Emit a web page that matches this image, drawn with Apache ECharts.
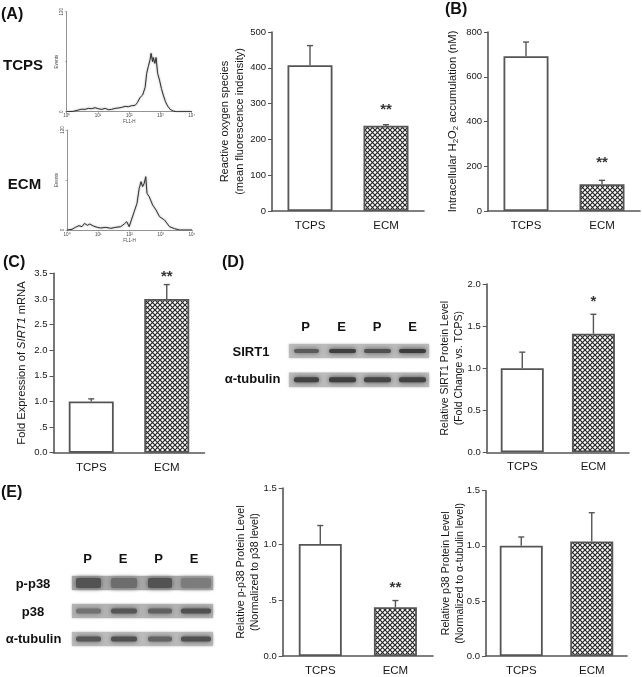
<!DOCTYPE html>
<html><head><meta charset="utf-8">
<style>html,body{margin:0;padding:0;background:#fff}#c{width:642px;height:677px}</style>
<script src="https://cdn.jsdelivr.net/npm/echarts@6/dist/echarts.min.js"></script>
</head><body><div id="c"></div>
<script>
const categories = ['TCPS', 'ECM'];
const FONT = '"Liberation Sans", Arial, sans-serif';
const INK = '#161616', LINE = '#555555';

// Bar panels: means, upper error-bar ends, star labels
const rosMeans = [407, 238], rosHigh = [462, 241], rosStars = [null, 293];
const h2o2Means = [692, 120], h2o2High = [755, 137], h2o2Stars = [null, 232];
const sirtMrnaMeans = [1.0, 3.0], sirtMrnaHigh = [1.05, 3.28], sirtMrnaStars = [null, 3.5];
const sirtProtMeans = [1.0, 1.41], sirtProtHigh = [1.19, 1.64], sirtProtStars = [null, 1.84];
const pp38Means = [1.0, 0.435], pp38High = [1.165, 0.495], pp38Stars = [null, 0.64];
const p38Means = [1.0, 1.04], p38High = [1.08, 1.30];

const rosTicks = ['0', '100', '200', '300', '400', '500'];
const h2o2Ticks = ['0', '200', '400', '600', '800'];
const sirtMrnaTicks = ['0.0', '.5', '1.0', '1.5', '2.0', '2.5', '3.0', '3.5'];
const sirtProtTicks = ['0.0', '0.5', '1.0', '1.5', '2.0'];
const pp38Ticks = ['0.0', '.5', '1.0', '1.5'];
const p38Ticks = ['0.0', '0.5', '1.0', '1.5'];

// Flow cytometry histograms: log10 decade and event count
const tcpsDecades = [0,.21,.37,.48,.59,.69,.80,.91,1.01,1.12,1.23,1.33,1.44,1.55,1.65,1.76,1.87,1.97,2.08,2.19,2.26,2.35,2.43,2.51,2.56,2.61,2.67,2.70,2.75,2.77,2.82,2.86,2.91,2.97,3.03,3.09,3.16,3.23,3.31,3.41,3.52,4];
const tcpsCounts  = [0,.4,2,3,2.8,4,3.6,4.8,3.6,2.8,4,2.4,2.8,4,4.4,5.2,6.4,6,7.2,7.6,10.8,17.2,20,29.2,46,54,62.8,70,60,65,58,65,46,38,28,20,12,6.8,2.8,.8,0,0];
const ecmDecades = [0,.16,.27,.38,.48,.56,.65,.73,.84,.97,1.08,1.24,1.40,1.56,1.72,1.83,1.91,1.99,2.06,2.15,2.24,2.31,2.37,2.42,2.47,2.52,2.56,2.63,2.74,2.85,2.96,3.12,3.28,3.44,3.60,4];
const ecmCounts  = [0,.8,3.2,5.2,4,8,5.6,7.2,4.8,3.2,2.4,3.2,2,3.2,4,7.2,10,4,12,22,32,50,58,52,56,64,44,40,30,24,16,12,4,1.6,0,0];
const histXTicks = ['10\u2070', '10\u00B9', '10\u00B2', '10\u00B3', '10\u2074'];
const histYTicks = ['0', '', '120'];

// Western blots: band darkness per lane (0 to 1)
const dSirt1 = [.55, .72, .62, .74], dTubulin = [.70, .72, .68, .70];
const eP = [.60, .45, .60, .36], eP38 = [.42, .58, .52, .62], eTubulin = [.58, .62, .50, .62];

const hatch = document.createElement('canvas');
hatch.width = 5; hatch.height = 5;
(function () {
  const g = hatch.getContext('2d');
  g.fillStyle = '#fff'; g.fillRect(0, 0, 5, 5);
  g.strokeStyle = '#262626'; g.lineWidth = 1.2;
  g.beginPath();
  g.moveTo(-1, -1); g.lineTo(6, 6);
  g.moveTo(6, -1); g.lineTo(-1, 6);
  g.stroke();
})();

const grids = [], xAxes = [], yAxes = [], series = [];

function barPanel(geom, yMax, interval, ticks, means, high, stars, name, nameGap, nameSize, rich) {
  const i = grids.length;
  grids.push({ left: geom[0], top: geom[1], width: geom[2], height: geom[3], containLabel: false });
  xAxes.push({ type: 'category', gridIndex: i, data: categories,
    axisLine: { lineStyle: { color: LINE, width: 1.6 } },
    axisTick: { alignWithLabel: true, length: 3, lineStyle: { color: LINE, width: 1 } },
    axisLabel: { color: INK, fontFamily: FONT, fontSize: 11.5, margin: 9 } });
  yAxes.push({ type: 'value', gridIndex: i, min: 0, max: yMax, interval: interval,
    splitLine: { show: false },
    axisLine: { show: true, lineStyle: { color: LINE, width: 1.6 } },
    axisTick: { show: true, length: 4, lineStyle: { color: LINE, width: 1 } },
    axisLabel: { color: INK, fontFamily: FONT, fontSize: 9.5, margin: 6,
      formatter: (v, idx) => ticks[idx] },
    name: name, nameLocation: 'middle', nameGap: nameGap, nameRotate: 90, nameMoveOverlap: false,
    nameTextStyle: { color: INK, fontFamily: FONT, fontSize: nameSize, lineHeight: 14.5, rich: rich || {} } });
  series.push({ type: 'bar', xAxisIndex: i, yAxisIndex: i, barWidth: geom[4], z: 3,
    data: means.map((v, k) => ({ value: v, itemStyle: {
      color: k === 0 ? '#fff' : { image: hatch, repeat: 'repeat' },
      borderColor: LINE, borderWidth: 1.8 } })) });
  series.push({ type: 'custom', xAxisIndex: i, yAxisIndex: i, z: 4,
    encode: { x: 0, y: [1, 2] },
    data: means.map((v, k) => [k, v, high[k]]),
    renderItem: (p, api) => {
      const a = api.coord([api.value(0), api.value(1)]);
      const b = api.coord([api.value(0), api.value(2)]);
      const st = { stroke: LINE, lineWidth: 1.4 };
      return { type: 'group', children: [
        { type: 'line', shape: { x1: a[0], y1: a[1], x2: b[0], y2: b[1] }, style: st },
        { type: 'line', shape: { x1: b[0] - 3, y1: b[1], x2: b[0] + 3, y2: b[1] }, style: st }
      ] };
    } });
  if (stars) {
    series.push({ type: 'scatter', xAxisIndex: i, yAxisIndex: i, symbolSize: 0, z: 5, clip: false,
      data: stars.map((v, k) => (v === null ? null : { value: [k, v] })).filter(Boolean),
      label: { show: true, position: 'inside', offset: [0, 4], color: '#000',
        fontFamily: FONT, fontWeight: 'bold', fontSize: 15,
        formatter: () => (yMax === 2 ? '*' : '**') } });
  }
}

function histPanel(geom, decades, counts) {
  const i = grids.length;
  grids.push({ left: geom[0], top: geom[1], width: geom[2], height: geom[3], containLabel: false });
  xAxes.push({ type: 'value', gridIndex: i, min: 0, max: 4, interval: 1,
    splitLine: { show: false },
    axisLine: { lineStyle: { color: '#777', width: 0.8 } },
    axisTick: { show: true, length: 1.5, lineStyle: { color: '#777', width: 0.6 } },
    axisLabel: { color: '#444', fontFamily: FONT, fontSize: 4.5, margin: 2,
      formatter: (v, idx) => histXTicks[idx] },
    name: 'FL1-H', nameLocation: 'middle', nameGap: 8,
    nameTextStyle: { color: '#444', fontFamily: FONT, fontSize: 4.5 } });
  yAxes.push({ type: 'value', gridIndex: i, min: 0, max: 120, interval: 60,
    splitLine: { show: false },
    axisLine: { show: true, lineStyle: { color: '#777', width: 0.8 } },
    axisTick: { show: true, length: 1.5, lineStyle: { color: '#777', width: 0.6 } },
    axisLabel: { color: '#444', fontFamily: FONT, fontSize: 4.5, margin: 2, rotate: 90,
      formatter: (v, idx) => histYTicks[idx] },
    name: 'Events', nameLocation: 'middle', nameGap: 7, nameRotate: 90,
    nameTextStyle: { color: '#444', fontFamily: FONT, fontSize: 4.5 } });
  series.push({ type: 'line', xAxisIndex: i, yAxisIndex: i, showSymbol: false, smooth: false,
    lineStyle: { color: '#333', width: 1, shadowColor: '#888', shadowBlur: 2 },
    data: decades.map((d, k) => [d, counts[k]]) });
}

histPanel([66.7, 11.7, 125, 100], tcpsDecades, tcpsCounts);
histPanel([67, 130, 125, 100], ecmDecades, ecmCounts);

barPanel([272, 32, 152, 179, 45], 500, 100, rosTicks, rosMeans, rosHigh, rosStars,
  'Reactive oxygen species\n(mean fluorescence indensity)', 25, 11);
barPanel([488, 32, 152, 179, 45], 800, 200, h2o2Ticks, h2o2Means, h2o2High, h2o2Stars,
  '{n|Intracellular H}{s|2}{n|O}{s|2}{n| accumulation (nM)}', 28, 11.2,
  { n: { fontSize: 11.2, fontFamily: FONT, color: INK, verticalAlign: 'middle' },
    s: { fontSize: 8, fontFamily: FONT, color: INK, verticalAlign: 'bottom', padding: [4, 0, 0, 0] } });
barPanel([53.5, 273.3, 151, 179.4, 45], 3.5, 0.5, sirtMrnaTicks, sirtMrnaMeans, sirtMrnaHigh, sirtMrnaStars,
  '{n|Fold Expression of }{i|SIRT1}{n| mRNA}', 24, 11.2,
  { n: { fontSize: 11.2, fontFamily: FONT, color: INK },
    i: { fontSize: 11.2, fontFamily: FONT, color: INK, fontStyle: 'italic' } });
barPanel([486.7, 284, 142.3, 168.3, 43], 2, 0.5, sirtProtTicks, sirtProtMeans, sirtProtHigh, sirtProtStars,
  'Relative SIRT1 Protein Level\n(Fold Change vs. TCPS)', 20, 10.5);
barPanel([282.7, 488, 150.3, 169.3, 43], 1.5, 0.5, pp38Ticks, pp38Means, pp38High, pp38Stars,
  'Relative p-p38 Protein Level\n(Normalized to p38 level)', 20, 10.6);
barPanel([486, 490.7, 141, 167.6, 43], 1.5, 0.5, p38Ticks, p38Means, p38High, null,
  'Relative p38 Protein Level\n(Normalized to \u03B1-tubulin level)', 18.5, 10.6);

// Non-data annotation: panel letters, row labels and western blot strips
const graphic = [];
function txt(s, x, y, size, align) {
  graphic.push({ type: 'text', x: x, y: y, silent: true, style: {
    text: s, font: 'bold ' + size + 'px ' + FONT, fill: '#111',
    textAlign: align || 'left', textVerticalAlign: 'middle' } });
}
[['(A)', 1, 15], ['(B)', 445, 10], ['(C)', 3, 263], ['(D)', 222, 263], ['(E)', 1, 493]]
  .forEach(a => txt(a[0], a[1], a[2], 16));
txt('TCPS', 23, 66, 15, 'center'); txt('ECM', 24.5, 185, 15, 'center');
[305.7, 341.7, 377, 412.7].forEach((x, k) => txt(['P', 'E', 'P', 'E'][k], x, 327, 13, 'center'));
[87.7, 123, 158.7, 194].forEach((x, k) => txt(['P', 'E', 'P', 'E'][k], x, 559, 13, 'center'));
txt('SIRT1', 251, 352, 13, 'center'); txt('\u03B1-tubulin', 252.5, 379, 13, 'center');
txt('p-p38', 33, 584, 13, 'center'); txt('p38', 33, 612, 13, 'center'); txt('\u03B1-tubulin', 33.5, 639, 13, 'center');

function strip(x, y, w, h, bg, lanes, darkness, bandH) {
  graphic.push({ type: 'rect', silent: true, shape: { x: x, y: y, width: w, height: h },
    style: { fill: bg, shadowColor: bg, shadowBlur: 2 } });
  lanes.forEach((l, k) => {
    const g = Math.round(185 - 170 * darkness[k]);
    const c = 'rgb(' + g + ',' + g + ',' + g + ')';
    graphic.push({ type: 'rect', silent: true,
      shape: { x: l[0], y: y + h / 2 - bandH / 2, width: l[1] - l[0], height: bandH, r: Math.min(bandH / 2, 2) },
      style: { fill: c, shadowColor: c, shadowBlur: 5 } });
  });
}
const dLanes = [[294, 319], [329, 356], [364, 391], [399, 426]];
const eLanes = [[76, 101], [111, 137], [148, 172], [181, 211]];
strip(289, 344, 140, 14, '#bcbcbc', dLanes, dSirt1, 4);
strip(289, 372.5, 140, 14.5, '#bcbcbc', dLanes, dTubulin, 5);
strip(72, 576, 141, 14, '#a8a8a8', eLanes, eP, 10);
strip(72, 604, 141, 14, '#b4b4b4', eLanes, eP38, 5);
strip(72, 632, 141, 14, '#bcbcbc', eLanes, eTubulin, 5);

const chart = echarts.init(document.getElementById('c'), null, { renderer: 'canvas' });
chart.setOption({
  animation: false, backgroundColor: '#fff', tooltip: { show: false }, legend: { show: false },
  grid: grids, xAxis: xAxes, yAxis: yAxes, series: series, graphic: graphic
});
</script></body></html>
